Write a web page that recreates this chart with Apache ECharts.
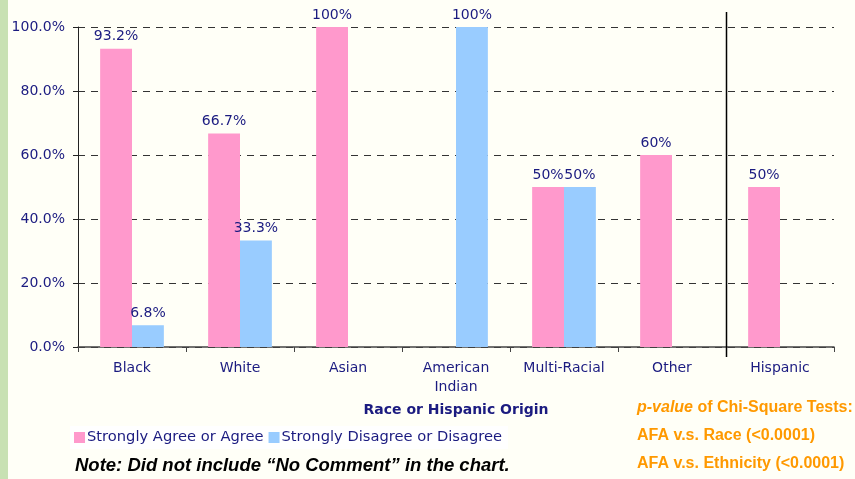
<!DOCTYPE html>
<html><head><meta charset="utf-8">
<script src="https://cdn.jsdelivr.net/npm/echarts@6/dist/echarts.min.js"></script>
<style>html,body{margin:0;padding:0;background:#fffff7;}#c{width:855px;height:479px;}</style>
</head><body><div id="c"></div>
<script>
const categories = ['Black', 'White', 'Asian', 'American\nIndian', 'Multi-Racial', 'Other', 'Hispanic'];
const agree = [93.2, 66.7, 100, null, 50, 60, 50];
const disagree = [6.8, 33.3, null, 100, 50, null, null];
const seriesNames = ['Strongly Agree or Agree', 'Strongly Disagree or Disagree'];
const yTicks = [0, 20, 40, 60, 80, 100];

const navy = '#1b1b80';
const chart = echarts.init(document.getElementById('c'), null, {renderer: 'canvas'});
const font = 'DejaVu Sans, Arial, sans-serif';
const lbl = {show: true, position: 'top', color: navy, fontSize: 14, fontFamily: font, distance: 5,
  formatter: p => p.value == null ? '' : p.value + '%'};
const option = {
  backgroundColor: '#fffff7',
  animation: false,
  grid: {left: 78, right: 21, top: 27, bottom: 132, containLabel: false},
  legend: {
    data: seriesNames, left: 70, top: 426, itemWidth: 11, itemHeight: 11, itemGap: 5,
    icon: 'rect', backgroundColor: '#ffffff', padding: [4, 6, 4, 4],
    textStyle: {color: navy, fontSize: 14.7, fontFamily: font, padding: [0, 0, 0, -3]}
  },
  xAxis: {
    type: 'category', data: categories,
    name: 'Race or Hispanic Origin', nameLocation: 'middle', nameGap: 56,
    nameTextStyle: {color: navy, fontSize: 14, fontWeight: 'bold', fontFamily: font, verticalAlign: 'top'},
    axisLine: {lineStyle: {color: '#444', width: 1.5}},
    axisTick: {show: true, length: 5, lineStyle: {color: '#444'}},
    axisLabel: {color: navy, fontSize: 14, fontFamily: font, margin: 12, lineHeight: 19}
  },
  yAxis: {
    type: 'value', min: 0, max: 100, interval: 20,
    axisLine: {show: true, lineStyle: {color: '#222', width: 1}},
    axisTick: {show: true, length: 5, lineStyle: {color: '#222'}},
    axisLabel: {color: navy, fontSize: 14, fontFamily: font, margin: 13,
      formatter: v => yTicks.includes(v) ? v.toFixed(1) + '%' : ''},
    splitLine: {show: true, lineStyle: {color: '#333', type: [7, 6], width: 1}}
  },
  series: [
    {name: seriesNames[0], type: 'bar', data: agree, barGap: '0%', barCategoryGap: '41%',
     itemStyle: {color: '#ff99cc'}, label: lbl},
    {name: seriesNames[1], type: 'bar', data: disagree, barGap: '0%', barCategoryGap: '41%',
     itemStyle: {color: '#99ccff'}, label: lbl}
  ],
  graphic: [
    {type: 'rect', shape: {x: 0, y: 0, width: 8, height: 479}, style: {fill: '#c8e1b3'}, silent: true},
    {type: 'text', left: 75, top: 456, style: {text: 'Note: Did not include \u201cNo Comment\u201d in the chart.',
      fill: '#000', font: 'italic bold 18.5px Liberation Sans, Arial, sans-serif'}},
    {type: 'text', left: 637, top: 400, style: {
      rich: {i: {fill: '#ff9900', font: 'italic bold 16px Liberation Sans, Arial, sans-serif'},
             b: {fill: '#ff9900', font: 'bold 16px Liberation Sans, Arial, sans-serif'}},
      text: '{i|p-value}{b| of Chi-Square Tests:}'}},
    {type: 'text', left: 637, top: 428, style: {text: 'AFA v.s. Race (<0.0001)', fill: '#ff9900',
      font: 'bold 16px Liberation Sans, Arial, sans-serif'}},
    {type: 'text', left: 637, top: 456, style: {text: 'AFA v.s. Ethnicity (<0.0001)', fill: '#ff9900',
      font: 'bold 16px Liberation Sans, Arial, sans-serif'}}
  ]
};
chart.setOption(option);
// separator between race categories and Hispanic
const pOther = chart.convertToPixel({xAxisIndex: 0}, categories[5]);
const pHisp = chart.convertToPixel({xAxisIndex: 0}, categories[6]);
const sepX = Math.round((pOther + pHisp) / 2) + 0.5;
const yTop = chart.convertToPixel({yAxisIndex: 0}, 100);
const yBot = chart.convertToPixel({yAxisIndex: 0}, 0);
option.graphic.push({type: 'line', shape: {x1: sepX, y1: yTop - 15, x2: sepX, y2: yBot + 10},
  style: {stroke: '#000', lineWidth: 1.5}, silent: true, z: 100});
chart.setOption({graphic: option.graphic});
</script></body></html>
